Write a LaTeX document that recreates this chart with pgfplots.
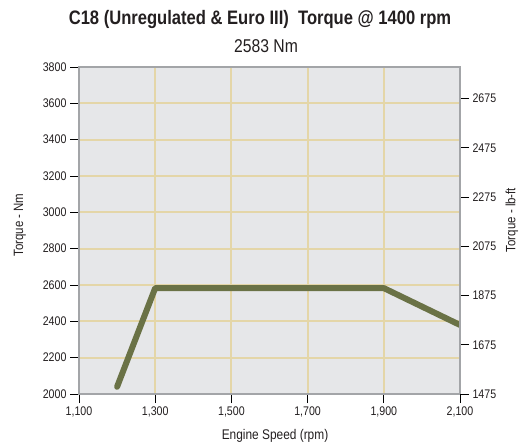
\documentclass[border=0pt]{standalone}
\usepackage{fontspec}
\setmainfont{Liberation Sans}[FakeStretch=0.85]
\usepackage{pgfplots}
\pgfplotsset{compat=1.18}
\definecolor{bgc}{HTML}{E6E7E9}
\definecolor{gridc}{HTML}{E4D6A8}
\definecolor{framec}{HTML}{A3A5A8}
\definecolor{linec}{HTML}{6A7246}
\definecolor{txt}{HTML}{231F20}
\begin{document}
\begin{tikzpicture}[x=1pt,y=1pt]
\useasboundingbox (-79,-51) rectangle (450,394);
\pgfplotsset{
  common/.style={
    at={(0,0)}, anchor=south west,
    scale only axis, width=381pt, height=327pt,
    xmin=1100, xmax=2100,
    /pgf/number format/assume math mode=true,
    tick label style={font=\fontsize{12.5}{14}\selectfont, color=txt},
    tick align=outside, major tick length=9pt,
    tick style={color=black, line width=0.7pt},
  }
}
\begin{axis}[common,
  ymin=2000, ymax=3800,
  ytick={2000,2200,...,3800},
  xtick={1100,1300,...,2100},
  xticklabels={{1,100},{1,300},{1,500},{1,700},{1,900},{2,100}},
  yticklabel style={/pgf/number format/1000 sep={}},
  xtick pos=bottom, ytick pos=left,
  axis background/.style={fill=bgc},
  axis line style={draw=framec, line width=1.5pt},
  grid=major,
  major grid style={draw=gridc, line width=2pt},
]
\addplot[linec, line width=6pt, line cap=round, line join=round] coordinates {
  (1200,2040) (1300,2583) (1900,2583) (2100,2380)
};
\end{axis}
\begin{axis}[common,
  ymin=1475.1, ymax=2802.7,
  axis x line=none,
  axis y line*=right,
  ytick={1475,1675,...,2675},
  yticklabel style={/pgf/number format/1000 sep={}},
  axis line style={draw=framec, line width=1.5pt},
]
\addplot[draw=none] coordinates {(1100,1500)};
\end{axis}
\node[font=\bfseries\fontsize{19.5}{22}\selectfont, text=txt] at (181,374) {C18 (Unregulated \& Euro III)\ \ Torque @ 1400 rpm};
\node[font=\fontsize{18.5}{21}\selectfont, text=txt] at (187,348) {2583 Nm};
\node[font=\fontsize{13.5}{15}\selectfont, text=txt, rotate=90] at (-59,169) {Torque - Nm};
\node[font=\fontsize{13.5}{15}\selectfont, text=txt, rotate=90] at (433,174) {Torque - lb-ft};
\node[font=\fontsize{14}{16}\selectfont, text=txt] at (196,-42) {Engine Speed (rpm)};
\end{tikzpicture}
\end{document}
